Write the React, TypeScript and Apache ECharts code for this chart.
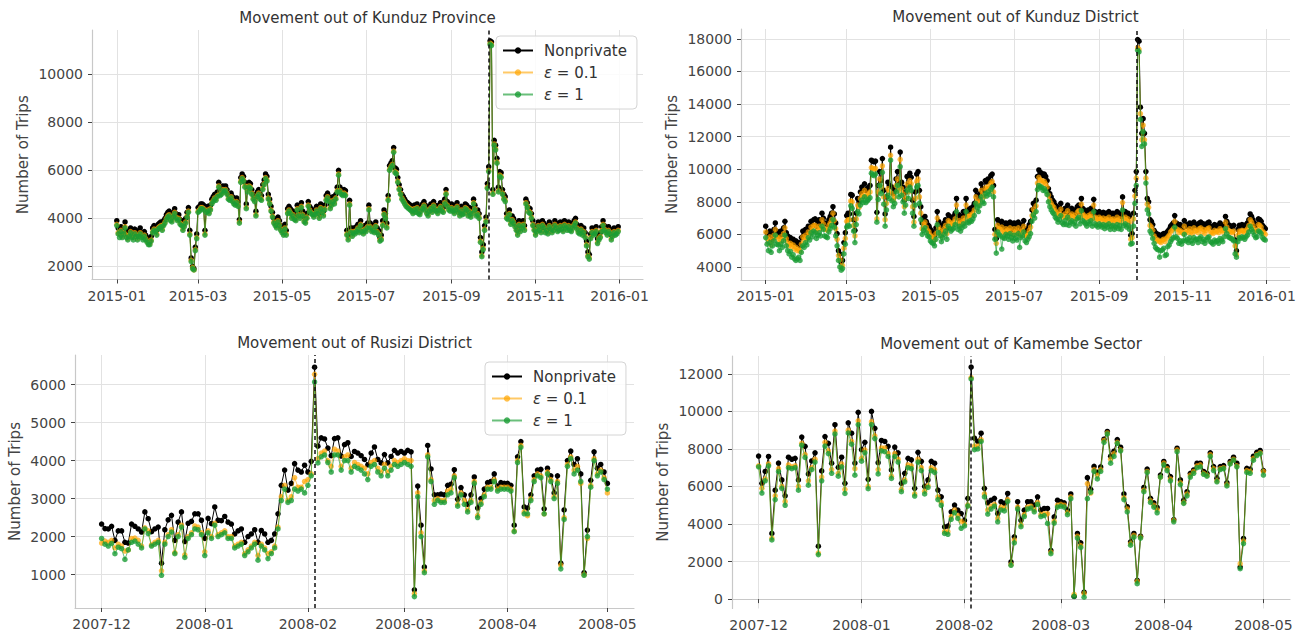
import React, { useEffect, useRef } from 'react';
import * as echarts from 'echarts';

const FONT = 'DejaVu Sans, sans-serif';
const SERIES_NAMES = ['Nonprivate', 'ε = 0.1', 'ε = 1'];
const TITLES = [
  'Movement out of Kunduz Province',
  'Movement out of Kunduz District',
  'Movement out of Rusizi District',
  'Movement out of Kamembe Sector',
];
const Y_NAME = 'Number of Trips';

// ---- x ranges / ticks ----
const P12_START = '2015-01-01';
const P34_START = '2007-12-01';
const P12_EVENT = '2015-09-28';
const P34_EVENT = '2008-02-03';
const P12_XTICKS = ['2015-01', '2015-03', '2015-05', '2015-07', '2015-09', '2015-11', '2016-01'];
const P34_XTICKS = ['2007-12', '2008-01', '2008-02', '2008-03', '2008-04', '2008-05'];

// ---- y ticks ----
const P1_YTICKS = [2000, 4000, 6000, 8000, 10000];
const P2_YTICKS = [4000, 6000, 8000, 10000, 12000, 14000, 16000, 18000];
const P3_YTICKS = [1000, 2000, 3000, 4000, 5000, 6000];
const P4_YTICKS = [0, 2000, 4000, 6000, 8000, 10000, 12000];

// ---- Panel 1: Kunduz Province, daily 2015-01-01 .. 2015-12-31 ----
const P1_NONPRIVATE = [
  3900,3600,3500,3650,3400,3550,3850,3450,3300,3500,3600,3400,3350,3550,3500,3300,3450,3600,3400,3350,3450,3300,3200,3100,3050,3250,3600,3700,3650,3500,3750,
  3800,3850,3700,3900,4000,4150,4250,4300,4100,4050,4250,4400,4200,4100,4150,3950,3900,3700,3850,4000,4250,4450,3500,2350,2000,1900,2800,3350,
  4450,4500,4600,4600,4550,3500,4450,4500,4400,4550,4800,4900,5000,4950,5100,5500,5150,5200,5350,5300,5350,5200,5000,4950,5050,4900,4800,4750,4850,4700,3950,
  5700,5850,5750,5500,4600,5300,5500,5450,5200,5000,4900,4300,5100,5200,5000,4950,5400,5600,5850,5750,5000,4800,4500,4250,4000,3900,3800,4050,3900,3700,
  3600,3500,3750,3500,4400,4500,4400,4200,4300,4150,4100,4550,4300,4200,4650,4300,4050,4000,4200,4700,4500,4400,4350,4250,4350,4500,4400,4200,4600,4450,4300,
  4550,4950,5050,4900,4600,4750,4900,4800,5000,5300,6000,5300,5200,5150,5200,5150,3500,3300,4750,3600,3450,3600,3550,3650,3750,3600,3900,3650,3550,3700,
  3650,3800,4550,3800,3650,3700,3600,3850,3600,3500,3200,3300,3900,4350,4200,3800,4950,6200,6300,6400,6950,6100,6050,5700,5400,5200,5000,4900,4800,4700,4650,
  4600,4550,4500,4400,4550,4450,4600,4400,4350,4500,4600,4700,4550,4400,4300,4500,4600,4450,4700,4550,4500,4400,4550,4650,4500,4450,4800,5200,4700,4550,4500,
  4600,4500,4400,4550,4650,4450,4300,4500,4350,4400,4600,4550,4300,4450,4250,4400,4800,4550,4300,4350,4200,3200,2600,2900,3700,4050,5450,6150,11400,11350,
  5200,7250,7050,6500,5300,5950,5900,5200,5000,4900,4200,4150,4350,3950,4100,4000,3850,3700,3500,3900,3650,3800,3900,3700,4800,4650,4450,4400,4200,3900,3700,
  3500,3650,3850,3700,3600,3900,3800,3600,3700,3550,3850,3750,3600,3700,3900,3800,3650,3700,3850,3750,3650,3900,3800,3700,3850,3700,3650,3800,3900,4000,
  3750,3600,3550,3700,3500,3600,3400,3050,2600,2500,3350,3600,3500,3550,3650,3150,3300,3400,3650,3900,3700,3600,3500,3650,3550,3300,3450,3600,3500,3550,3650,
];
const P1_EPS01 = [
  3750,3400,3350,3500,3250,3400,3650,3300,3150,3300,3450,3250,3200,3400,3300,3150,3300,3400,3250,3200,3300,3150,3050,2950,2950,3100,3450,3550,3500,3350,3600,
  3650,3700,3550,3750,3850,4000,4100,4150,3950,3900,4100,4250,4050,3950,4000,3800,3750,3550,3700,3850,4100,4300,3350,2250,1950,1850,2700,3200,
  4300,4350,4450,4450,4400,3350,4300,4350,4250,4400,4650,4750,4850,4800,4950,5350,5000,5050,5200,5150,5200,5050,4850,4800,4900,4750,4650,4600,4700,4550,3850,
  5550,5700,5600,5350,4450,5150,5350,5300,5050,4850,4750,4150,4950,5050,4850,4800,5250,5450,5700,5600,4850,4650,4350,4100,3850,3750,3650,3900,3750,3550,
  3450,3350,3600,3350,4250,4350,4250,4050,4150,4000,3950,4400,4150,4050,4500,4150,3900,3850,4050,4550,4350,4250,4200,4100,4200,4350,4250,4050,4450,4300,4150,
  4400,4800,4900,4750,4450,4600,4750,4650,4850,5150,5850,5150,5050,5000,5050,5000,3350,3150,4600,3450,3300,3450,3400,3500,3600,3450,3750,3500,3400,3550,
  3500,3650,4400,3650,3500,3550,3450,3700,3450,3350,3100,3150,3750,4200,4050,3650,4800,6050,6150,6250,6800,5950,5900,5550,5250,5050,4850,4750,4650,4550,4500,
  4450,4400,4350,4250,4400,4300,4450,4250,4200,4350,4450,4550,4400,4250,4150,4350,4450,4300,4550,4400,4350,4250,4400,4500,4350,4300,4650,5050,4550,4400,4350,
  4450,4350,4250,4400,4500,4300,4150,4350,4200,4250,4450,4400,4150,4300,4100,4250,4650,4400,4150,4200,4050,3050,2450,2750,3550,3900,5300,6000,11300,11250,
  5050,7100,6900,6350,5150,5800,5750,5050,4850,4750,4050,4000,4200,3800,3950,3850,3700,3550,3350,3750,3500,3650,3750,3550,4650,4500,4300,4250,4050,3750,3550,
  3350,3500,3700,3550,3450,3750,3650,3450,3550,3400,3700,3600,3450,3550,3750,3650,3500,3550,3700,3600,3500,3750,3650,3550,3700,3550,3500,3650,3750,3850,
  3600,3450,3400,3550,3350,3450,3250,2900,2450,2350,3200,3450,3350,3400,3500,3000,3150,3250,3500,3750,3550,3450,3350,3500,3400,3150,3300,3450,3350,3400,3500,
];
const P1_EPS1 = [
  3700,3350,3200,3450,3200,3350,3600,3200,3100,3250,3400,3200,3100,3350,3250,3100,3250,3350,3200,3100,3250,3100,3000,2900,2900,3050,3400,3500,3450,3300,3550,
  3600,3650,3500,3700,3800,3950,4050,4100,3900,3850,4050,4200,4000,3900,3950,3750,3700,3500,3650,3800,4050,4250,3300,2200,1900,1850,2650,3150,
  4250,4300,4400,4400,4350,3300,4250,4300,4200,4350,4600,4700,4800,4750,4900,5300,4950,5000,5150,5100,5150,5000,4800,4750,4850,4700,4600,4550,4650,4500,3800,
  5500,5650,5550,5300,4400,5100,5300,5250,5000,4800,4700,4100,4900,5000,4800,4750,5200,5400,5650,5550,4800,4600,4300,4050,3800,3700,3600,3850,3700,3500,
  3400,3300,3550,3300,4200,4300,4200,4000,4100,3950,3900,4350,4100,4000,4450,4100,3850,3800,4000,4500,4300,4200,4150,4050,4150,4300,4200,4000,4400,4250,4100,
  4350,4750,4850,4700,4400,4550,4700,4600,4800,5100,5800,5100,5000,4950,5000,4950,3300,3100,4550,3400,3250,3400,3350,3450,3550,3400,3700,3450,3350,3500,
  3450,3600,4350,3600,3450,3500,3400,3650,3400,3300,3050,3100,3700,4150,4000,3600,4750,6000,6100,6200,6750,5900,5850,5500,5200,5000,4800,4700,4600,4500,4450,
  4400,4350,4300,4200,4350,4250,4400,4200,4150,4300,4400,4500,4350,4200,4100,4300,4400,4250,4500,4350,4300,4200,4350,4450,4300,4250,4600,5000,4500,4350,4300,
  4400,4300,4200,4350,4450,4250,4100,4300,4150,4200,4400,4350,4100,4250,4050,4200,4600,4350,4100,4150,4000,3000,2400,2700,3500,3850,5250,5950,11250,11200,
  5000,7050,6850,6300,5100,5750,5700,5000,4800,4700,4000,3950,4150,3750,3900,3800,3650,3500,3300,3700,3450,3600,3700,3500,4600,4450,4250,4200,4000,3700,3500,
  3300,3450,3650,3500,3400,3700,3600,3400,3500,3350,3650,3550,3400,3500,3700,3600,3450,3500,3650,3550,3450,3700,3600,3500,3650,3500,3450,3600,3700,3800,
  3550,3400,3350,3500,3300,3400,3200,2850,2400,2300,3150,3400,3300,3350,3450,2950,3100,3200,3450,3700,3500,3400,3300,3450,3350,3100,3250,3400,3300,3350,3450,
];

// ---- Panel 2: Kunduz District, daily 2015-01-01 .. 2015-12-31 ----
const P2_NONPRIVATE = [
  6500,6100,5900,6200,5700,6000,6300,6700,6200,6100,5900,6200,6000,6400,6800,6100,5900,5700,5800,5600,5700,5500,5600,5400,5500,5300,5800,6200,6000,6300,6100,
  6500,6400,6800,6600,6900,6950,6500,6700,6900,6700,7300,7000,6700,6650,6600,6900,7100,7300,7700,7250,6700,6050,5000,4800,4300,4400,5500,6100,
  7150,7300,7250,8450,8400,6900,6250,7300,8200,8000,8600,8900,8700,9100,8700,8800,8900,9000,10550,10500,10450,10500,7350,9000,9850,9300,10650,8700,7250,8300,9200,
  9000,11350,8900,8500,8700,9400,9850,9100,11050,9200,8900,8100,8600,9550,9000,9750,9500,8100,7100,8600,9700,9850,8700,7700,6700,7000,7100,6800,6600,6500,
  6300,6200,6100,5950,6400,7400,6800,6600,6200,6500,6700,6900,6400,7200,7100,6900,7000,7100,7300,8200,7000,7200,6900,7100,7400,7200,8200,7500,7400,7600,7500,
  7700,7900,8700,8400,8200,8500,9100,8800,8700,9300,9200,9400,9300,9600,9700,9000,6300,5750,6900,6700,6600,6800,6500,6450,6700,6600,6450,6750,6500,6300,
  6700,6500,6400,6750,6300,6500,6600,6850,6300,6250,6400,6600,6800,7500,7900,7700,8100,9550,9950,9800,9750,9600,9700,9550,9300,8800,8500,8300,8100,8000,7800,
  7700,7500,7600,7900,7500,7400,7600,7400,7800,7300,7500,7600,7400,7500,7300,7700,7800,7400,8200,7600,7500,7400,7300,7500,7400,7600,7300,8150,7400,7300,7200,
  7400,7300,7200,7350,7100,7300,7200,7400,7100,7250,7300,7100,7200,7400,7150,7300,7100,8300,7300,7400,7200,7300,7100,5950,6050,7300,8700,9850,17950,17850,
  13800,12200,13100,12200,9850,8200,8000,6900,6800,6600,6250,6100,5950,6000,5900,5850,6000,6050,5900,6100,6200,6300,6500,6600,6700,7150,6700,6650,6450,6600,6500,
  6400,6850,6500,6600,6450,6700,6500,6400,6750,6550,6600,6450,6700,6750,6500,6650,6400,6600,6700,6750,6500,6450,6400,6600,6500,6550,6450,6700,6600,6500,
  6600,7100,6800,6600,6550,6500,6450,6550,5650,5000,6300,6550,6500,6600,6550,6450,6600,6700,6900,7250,7100,6900,6700,6550,6600,6950,6900,6800,6550,6450,6350,
];
const P2_EPS01 = [
  6150,5750,5500,5850,5350,5650,5950,6300,5850,5750,5500,5850,5650,6050,6400,5750,5500,5300,5450,5250,5350,5100,5200,5000,5100,4950,5400,5850,5650,5950,5750,
  6150,6050,6450,6250,6550,6550,6150,6350,6500,6350,6900,6650,6350,6300,6250,6550,6700,6900,7300,6850,6350,5700,4700,4450,4000,4100,5150,5750,
  6800,6900,6900,8050,8000,6550,5900,6950,7800,7650,8200,8500,8300,8700,8300,8400,8500,8600,10100,10050,10000,10050,6950,8600,9400,8900,10200,8300,6900,7900,8800,
  8600,10850,8500,8100,8300,9000,9400,8700,10600,8800,8500,7700,8200,9100,8600,9300,9100,7700,6750,8200,9250,9400,8300,7300,6350,6650,6750,6450,6250,6150,
  5950,5850,5800,5650,6050,7000,6450,6250,5900,6150,6350,6550,6050,6850,6750,6550,6650,6750,6950,7800,6650,6850,6550,6750,7000,6850,7800,7100,7050,7200,7150,
  7300,7500,8300,8000,7800,8100,8700,8400,8300,8850,8750,8950,8850,9150,9250,8600,6000,5450,6550,6350,6300,6450,6150,6100,6350,6250,6100,6400,6150,5950,
  6350,6150,6050,6400,5950,6150,6250,6500,5950,5900,6050,6250,6450,7150,7550,7350,7750,9150,9500,9350,9300,9150,9250,9100,8900,8400,8100,7900,7750,7650,7450,
  7350,7150,7250,7550,7150,7050,7250,7050,7450,6950,7150,7250,7050,7150,6950,7350,7450,7050,7850,7250,7150,7050,6950,7150,7050,7250,6950,7800,7050,6950,6850,
  7050,6950,6850,7000,6750,6950,6850,7050,6750,6900,6950,6750,6850,7050,6800,6950,6750,7950,6950,7050,6850,6950,6750,5700,5800,6950,8350,9450,17450,17350,
  13400,11800,12700,11800,9450,7850,7650,6550,6450,6250,5900,5750,5600,5650,5550,5500,5650,5700,5550,5750,5850,5950,6150,6250,6350,6800,6350,6300,6100,6250,6150,
  6050,6500,6150,6250,6100,6350,6150,6050,6400,6200,6250,6100,6350,6400,6150,6300,6050,6250,6350,6400,6150,6100,6050,6250,6150,6200,6100,6350,6250,6150,
  6250,6750,6450,6250,6200,6150,6100,6200,5300,4750,5950,6200,6150,6250,6200,6100,6250,6350,6550,6900,6750,6550,6350,6200,6250,6600,6550,6450,6200,6100,6000,
];
const P2_EPS1 = [
  5800,5400,5000,5500,4900,5300,5600,5950,5400,5350,5000,5400,5200,5600,5950,5300,5000,4800,4950,4600,4750,4500,4400,4500,4600,4400,4900,5300,5200,5500,5350,
  5800,5650,6100,5850,6200,6100,5750,5950,6100,5900,6500,6300,5900,5850,5800,6150,6350,6550,6900,6450,5900,5300,4400,4000,3800,3900,4800,5400,
  6450,6550,6500,7750,7600,6200,5500,6600,7400,7250,7800,8100,7950,8300,7950,8050,8150,8250,9750,9650,9600,9700,6750,8150,9000,8500,9800,7850,6500,7500,8400,
  8200,10550,8050,7700,7900,8600,9000,8300,10150,8400,8000,7300,7800,8700,8200,8900,8700,7300,6500,7800,8900,9000,7900,6900,6000,6250,6400,6100,5900,5850,
  5600,5500,5450,5300,5700,6600,6100,5900,5550,5800,6000,6200,5700,6500,6350,6200,6300,6400,6600,7400,6300,6500,6200,6400,6650,6500,7400,6750,6700,6850,6800,
  6950,7150,7900,7650,7400,7750,8300,8000,7900,8500,8350,8600,8450,8750,8900,8300,5700,4850,6150,6000,5900,5100,5800,5750,6000,5900,5700,6050,5800,5600,
  5950,5750,5650,6050,5200,5800,5900,6150,5600,5500,5700,5850,6050,6800,7200,7000,7400,8750,9000,8900,8900,8700,8800,8650,8450,8000,7700,7500,7350,7250,7050,
  6950,6750,6900,7150,6700,6600,6850,6600,7050,6550,6750,6850,6650,6750,6500,6950,7050,6650,7450,6850,6750,6650,6500,6750,6650,6850,6500,7400,6650,6550,6450,
  6650,6550,6450,6600,6350,6550,6450,6650,6300,6500,6550,6300,6450,6600,6350,6550,6300,7500,6550,6650,6450,6550,6300,5400,5450,6500,7900,9000,17300,17200,
  13050,11400,12300,11550,9150,7500,7250,6200,6050,5750,5450,5200,5100,5050,4600,5000,5050,5150,4700,4750,5250,5350,5550,5700,5800,6450,5850,5750,5450,5600,5400,
  5600,6000,5600,5700,5500,5800,5600,5450,5800,5650,5700,5500,5750,5850,5550,5700,5450,5650,5800,5850,5550,5500,5400,5650,5550,5600,5450,5750,5650,5550,
  5850,6350,6050,5850,5800,5750,5700,5600,4800,4600,5550,5800,5750,5850,5800,5700,5850,5950,6150,6500,6300,6150,5950,5800,5850,6200,6150,6050,5800,5700,5650,
];

// ---- Panel 3: Rusizi District, daily 2007-12-01 .. 2008-05-01 ----
const P3_NONPRIVATE = [
  2330,2210,2200,2270,1900,2150,2150,1850,1830,2330,2270,2200,2120,2650,2470,2130,2200,2250,1300,2180,2440,2560,1900,2380,2650,1870,2350,2400,2600,2600,2430,
  1950,2480,2340,2780,2430,2420,2530,2380,2330,2070,2150,2200,1850,2000,2070,2180,1850,2160,2070,1850,1900,2070,2600,3350,3750,3220,3400,3920,3750,3700,3880,
  3700,3980,6460,4380,4600,4570,4330,4130,4580,4600,4120,4420,4470,4110,4240,4200,4130,4030,3890,4200,4360,4030,3940,4160,3940,4110,4270,4200,4240,
  4200,4270,4230,600,3330,2300,1200,4400,3780,3100,3100,3120,3100,3350,3380,3760,2980,3290,3100,2850,3100,3570,2750,3000,3250,3420,3450,3650,3330,3420,3400,
  3400,3350,2300,4100,4500,2780,2750,3100,3600,3750,3770,2730,3800,3600,3150,3600,1300,2700,4000,4250,3900,4050,3650,1050,2170,3480,4230,3800,3900,3700,
  3400,
];
const P3_EPS01 = [
  1830,1880,1850,1900,1700,1800,1750,1620,1650,1950,1960,1900,1750,2230,2150,1780,1850,1900,1100,1850,2050,2180,1580,2050,2300,1520,2000,2100,2280,2250,2100,
  1600,2150,2000,2350,2050,2100,2150,2000,2000,1750,1800,1850,1550,1650,1750,1850,1500,1800,1700,1550,1600,1750,2250,3050,3350,2950,3050,3550,3300,3300,3450,
  3500,3650,6270,4050,4200,4250,4000,3850,4300,4250,3850,4100,4150,3800,3950,3900,3850,3800,3650,3950,4000,3800,3700,3900,3700,3850,4000,3950,4000,
  4050,4000,4000,500,3150,2100,1100,4150,3500,2950,3000,2950,2950,3200,3250,3600,2850,3150,2950,2700,2950,3450,2550,2900,3100,3300,3300,3500,3250,3300,3300,
  3300,3250,2150,4000,4400,2650,2550,3000,3500,3650,3600,2600,3700,3500,3050,3450,1250,2500,3900,4100,3750,3850,3400,1000,1950,3350,4050,3650,3750,3550,
  3150,
];
const P3_EPS1 = [
  1950,1800,1750,1820,1550,1720,1680,1400,1650,1850,1880,1800,1700,2200,2080,1750,1800,1850,980,1800,2000,2120,1550,2000,2250,1450,1950,2050,2200,2180,2050,
  1500,2100,1950,2300,2000,2050,2100,1950,1950,1700,1750,1800,1500,1600,1700,1800,1380,1750,1650,1420,1550,1700,2200,2950,3250,2900,2950,3250,3200,3250,3150,
  3350,3600,6070,3940,4100,4150,3950,3700,4150,4150,3750,4000,4000,3700,3850,3800,3750,3650,3500,3850,3900,3700,3600,3800,3600,3750,3900,3850,3900,
  3950,3900,3850,420,3050,2000,1050,4100,3450,2850,2950,2900,2900,3100,3150,3550,2800,3100,2850,2650,2900,3400,2500,2850,3050,3250,3250,3450,3200,3250,3250,
  3250,3200,2130,3950,4350,2600,2600,2950,3450,3600,3550,2600,3650,3450,3000,3400,1150,2450,3850,4050,3650,3750,3450,980,2000,3300,4000,3600,3700,3500,
  3250,
];

// ---- Panel 4: Kamembe Sector, daily 2007-12-01 .. 2008-05-01 ----
const P4_NONPRIVATE = [
  7620,6170,6800,7600,3500,5800,7250,6350,5500,7560,7450,7500,6350,8630,8140,6670,7360,7790,2820,6830,8660,8300,7240,9290,7020,7560,6170,9390,8840,7250,9950,
  7960,8350,6380,10000,9100,7270,8450,8400,8140,6880,8100,7790,6170,6700,7500,7420,5900,7820,7340,6000,6350,7340,7240,5810,5450,3850,3890,4650,5010,4740,4560,
  4200,5370,12360,8570,8400,8840,5900,5130,5270,5370,4560,5190,5100,5630,1980,3320,5190,4200,4740,5190,5190,5010,5450,4740,4830,4830,2600,4380,5270,
  5190,5130,4740,5600,140,3500,3000,370,6470,5850,7070,6760,7040,8520,8930,7610,7880,8500,8090,5600,4920,3050,3500,1000,3350,5950,6930,5370,5130,4880,6610,
  7330,7060,6530,4240,8040,6350,5270,5720,6700,6880,7240,7240,6800,6700,7790,7060,6440,7060,7110,6200,7330,7560,7240,1710,3230,6970,6920,7610,7820,7920,
  6850,
];
const P4_EPS01 = [
  7100,5900,6400,7200,3250,5500,6950,6000,5200,7150,7050,7100,6000,8300,7700,6300,7000,7450,2450,6500,8350,7900,6900,8950,6700,7200,5850,9000,8400,6950,9500,
  7500,7950,6000,9450,8700,6900,8050,8050,7750,6550,7750,7450,5850,6350,7150,7100,5600,7450,7000,5750,6050,7000,6900,5450,5150,3600,3600,4400,4750,4450,4150,
  4000,5000,11800,8150,8150,8500,5600,4750,4950,5050,4300,4900,4850,5300,1850,3150,4900,3950,4500,4900,4950,4750,5150,4500,4550,4550,2500,4150,5000,
  5050,5000,4600,5450,250,3350,2850,300,6150,5650,6900,6600,6900,8450,8850,7450,7750,8350,7950,5400,4800,2950,3400,950,3300,5800,6800,5250,5000,4750,6500,
  7250,6950,6400,4200,7950,6200,5150,5600,6600,6800,7100,7150,6700,6600,7700,6950,6300,6950,7000,6100,7250,7450,7100,1890,3100,6850,6800,7500,7700,7800,
  6800,
];
const P4_EPS1 = [
  7050,5650,6300,7100,3150,5300,6800,5900,5000,7000,6950,7000,5800,8200,7550,6070,6900,7300,2370,6300,8150,7750,6700,8800,6550,7050,5630,8850,8250,6600,9300,
  7350,7800,5880,9300,8550,6670,7900,7850,7600,6430,7600,7300,5720,6250,7000,6950,5490,7300,6850,5600,5950,6850,6750,5300,5000,3500,3450,4250,4600,4300,3770,
  3900,4960,11730,7960,8000,8400,5450,4530,4800,4950,4120,4750,4700,5200,1800,3000,4800,3860,4400,4800,4850,4650,5050,4400,4450,4030,2420,4050,4900,
  4950,4900,4500,5350,150,3250,2750,100,5350,5700,6800,6400,6800,8350,8800,7240,7600,8300,7900,5300,4650,2870,3300,820,3250,5720,6750,5150,4900,4600,6500,
  7150,6850,6300,4120,7850,6100,5100,5500,6500,6700,7000,7050,6650,6550,7600,6850,6250,6900,6950,6030,7200,7400,7050,1620,2960,6750,6700,7400,7650,7750,
  6610,
];

// ---- layout / style (not data) ----
const PANELS = [
  { title: TITLES[0], start: P12_START, pad: 18, event: P12_EVENT, xTicks: P12_XTICKS, yTicks: P1_YTICKS,
    series: [P1_NONPRIVATE, P1_EPS01, P1_EPS1], yMin: 1450, yMax: 11850, yStep: 2000,
    grid: { left: 92, top: 30, width: 551, height: 249.5 }, nameGap: 62, legend: { left: 496, top: 36 } },
  { title: TITLES[1], start: P12_START, pad: 18, event: P12_EVENT, xTicks: P12_XTICKS, yTicks: P2_YTICKS,
    series: [P2_NONPRIVATE, P2_EPS01, P2_EPS1], yMin: 3200, yMax: 18600, yStep: 2000,
    grid: { left: 741, top: 29, width: 549, height: 251 }, nameGap: 62, legend: null },
  { title: TITLES[2], start: P34_START, pad: 8, event: P34_EVENT, xTicks: P34_XTICKS, yTicks: P3_YTICKS,
    series: [P3_NONPRIVATE, P3_EPS01, P3_EPS1], yMin: 120, yMax: 6780, yStep: 1000,
    grid: { left: 75, top: 355, width: 559, height: 253 }, nameGap: 53, legend: { left: 485, top: 362 } },
  { title: TITLES[3], start: P34_START, pad: 8, event: P34_EVENT, xTicks: P34_XTICKS, yTicks: P4_YTICKS,
    series: [P4_NONPRIVATE, P4_EPS01, P4_EPS1], yMin: -500, yMax: 12950, yStep: 2000,
    grid: { left: 732, top: 356, width: 558, height: 252.5 }, nameGap: 62, legend: null },
];

const STYLES = [
  { color: '#000000', lineOpacity: 1, itemOpacity: 1 },
  { color: '#FFA500', lineOpacity: 0.6, itemOpacity: 0.7 },
  { color: '#1a9c34', lineOpacity: 0.65, itemOpacity: 0.8 },
];

function makeDates(start: string, before: number, count: number): string[] {
  const t0 = Date.parse(start + 'T00:00:00Z') - before * 86400000;
  const out: string[] = [];
  for (let i = 0; i < count; i++) out.push(new Date(t0 + i * 86400000).toISOString().slice(0, 10));
  return out;
}

function buildOption() {
  const grids: any[] = [];
  const xAxes: any[] = [];
  const yAxes: any[] = [];
  const series: any[] = [];
  const legends: any[] = [];
  const graphics: any[] = [];

  PANELS.forEach((p, i) => {
    const n = p.series[0].length;
    const cats = makeDates(p.start, p.pad, n + 2 * p.pad);
    const tickSet = new Set(p.xTicks.map((m) => m + '-01'));
    const isTick = (_idx: number, v: string) => tickSet.has(v);
    grids.push({ ...p.grid, containLabel: false });
    xAxes.push({
      type: 'category', gridIndex: i, data: cats, boundaryGap: false,
      axisLine: { show: true, lineStyle: { color: '#c8c8c8', width: 1.2 } },
      axisTick: { show: true, interval: isTick, length: 4, lineStyle: { color: '#444', width: 1 } },
      axisLabel: { interval: isTick, formatter: (v: string) => v.slice(0, 7), color: '#444', fontSize: 14, fontFamily: FONT, margin: 9 },
      splitLine: { show: true, interval: isTick, lineStyle: { color: '#e2e2e2', width: 1 } },
    });
    yAxes.push({
      type: 'value', gridIndex: i, min: p.yMin, max: p.yMax, minInterval: p.yStep, maxInterval: p.yStep,
      axisLine: { show: true, lineStyle: { color: '#c8c8c8', width: 1.2 } },
      axisTick: { show: true, length: 4, lineStyle: { color: '#444', width: 1 }, customValues: p.yTicks },
      axisLabel: {
        customValues: p.yTicks, formatter: (v: number) => String(Math.round(v)),
        color: '#444', fontSize: 14, fontFamily: FONT, margin: 9,
      },
      splitLine: { show: true, lineStyle: { color: '#e2e2e2', width: 1 } },
      name: Y_NAME, nameLocation: 'middle', nameGap: p.nameGap,
      nameTextStyle: { fontSize: 15, color: '#444', fontFamily: FONT },
    });
    const pad = new Array(p.pad).fill(null);
    p.series.forEach((vals, k) => {
      const st = STYLES[k];
      const s: any = {
        type: 'line', name: SERIES_NAMES[k], xAxisIndex: i, yAxisIndex: i,
        data: [...pad, ...vals, ...pad],
        showAllSymbol: true, symbol: 'circle', symbolSize: 5.5,
        lineStyle: { color: st.color, width: 1, opacity: st.lineOpacity },
        itemStyle: { color: st.color, opacity: st.itemOpacity },
        emphasis: { disabled: true }, silent: true, z: 2 + k,
      };
      if (k === 0) {
        s.markLine = {
          silent: true, symbol: ['none', 'none'], label: { show: false },
          lineStyle: { color: '#111', type: [4, 3], width: 1.5, opacity: 1 },
          emphasis: { disabled: true },
          data: [{ xAxis: p.event }],
        };
      }
      series.push(s);
    });
    if (p.legend) {
      legends.push({
        left: p.legend.left, top: p.legend.top, orient: 'vertical',
        data: SERIES_NAMES, selectedMode: false,
        itemWidth: 30, itemHeight: 8, itemGap: 7,
        padding: [7, 10, 7, 6],
        backgroundColor: 'rgba(255,255,255,0.85)', borderColor: '#d4d4d4', borderWidth: 1, borderRadius: 4,
        formatter: (name: string) => name.replace('ε', '{i|ε}'),
        textStyle: {
          fontSize: 15, color: '#333', fontFamily: FONT, padding: [0, 0, 0, 6],
          rich: { i: { fontStyle: 'italic', fontSize: 15, color: '#333', fontFamily: FONT } },
        },
      });
    }
    graphics.push({
      type: 'text', x: p.grid.left + p.grid.width / 2, y: p.grid.top - 12,
      style: {
        text: p.title, fill: '#333', font: '15px ' + FONT,
        align: 'center', verticalAlign: 'middle', textAlign: 'center', textVerticalAlign: 'middle',
      },
    });
  });

  return {
    animation: false,
    backgroundColor: '#ffffff',
    grid: grids, xAxis: xAxes, yAxis: yAxes, series, legend: legends, graphic: graphics,
  };
}

export default function App() {
  const ref = useRef<HTMLDivElement>(null);
  useEffect(() => {
    if (!ref.current) return;
    const chart = echarts.init(ref.current, undefined, { renderer: 'svg' });
    chart.setOption(buildOption() as any);
    return () => chart.dispose();
  }, []);
  return (
    <div
      ref={ref}
      style={{ position: 'fixed', left: 0, top: 0, width: 1307, height: 636, background: '#fff' }}
    />
  );
}
